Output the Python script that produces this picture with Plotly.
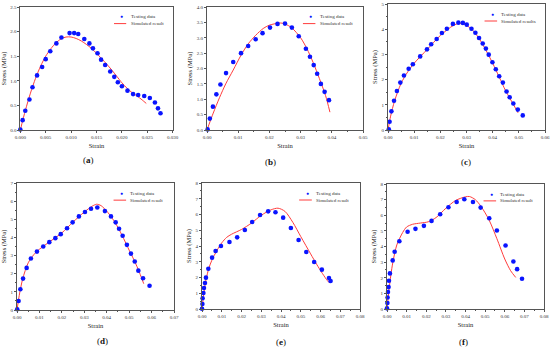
import plotly.graph_objects as go

# ---------------- data ----------------
a_test_x = [0.0, 0.00046, 0.00098, 0.0018, 0.0024, 0.0033, 0.0043, 0.0050, 0.0059, 0.0071, 0.0081, 0.0097,
            0.0106, 0.0114, 0.0126, 0.0136, 0.0143, 0.0152, 0.0159, 0.0167, 0.0177, 0.0185, 0.0192, 0.0200,
            0.0211, 0.0222, 0.0232, 0.0244, 0.0255, 0.0265, 0.0271, 0.0276]
a_test_y = [0.01, 0.20, 0.39, 0.62, 0.87, 1.11, 1.28, 1.44, 1.60, 1.76, 1.88, 1.97,
            1.97, 1.95, 1.85, 1.76, 1.66, 1.56, 1.43, 1.32, 1.19, 1.08, 0.97, 0.89,
            0.80, 0.73, 0.71, 0.69, 0.65, 0.56, 0.44, 0.34]
a_sim_x = [0.0, 0.001, 0.002, 0.003, 0.004, 0.005, 0.006, 0.007, 0.008, 0.009, 0.010, 0.011, 0.012,
           0.013, 0.014, 0.015, 0.016, 0.017, 0.018, 0.019, 0.020, 0.021, 0.022, 0.023, 0.024, 0.0248]
a_sim_y = [0.0, 0.40, 0.75, 1.05, 1.30, 1.50, 1.65, 1.77, 1.85, 1.89, 1.89, 1.86, 1.81,
           1.74, 1.66, 1.56, 1.45, 1.34, 1.22, 1.09, 0.96, 0.85, 0.76, 0.69, 0.61, 0.54]

b_test_x = [0.0002, 0.0009, 0.0019, 0.0030, 0.0043, 0.0061, 0.0084, 0.0109, 0.0132, 0.0156, 0.0178, 0.0202,
            0.0226, 0.0250, 0.0272, 0.0294, 0.0317, 0.0330, 0.0342, 0.0353, 0.0365, 0.0377, 0.0391]
b_test_y = [0.02, 0.37, 0.76, 1.16, 1.48, 1.85, 2.21, 2.50, 2.73, 2.95, 3.15, 3.33,
            3.45, 3.46, 3.33, 3.05, 2.64, 2.38, 2.11, 1.83, 1.50, 1.24, 0.97]
b_sim_x = [0.0, 0.002, 0.004, 0.006, 0.0084, 0.011, 0.0132, 0.0156, 0.018, 0.020, 0.0235, 0.025,
           0.0272, 0.030, 0.032, 0.034, 0.036, 0.038, 0.0394]
b_sim_y = [0.0, 0.55, 1.05, 1.50, 1.95, 2.45, 2.80, 3.08, 3.30, 3.41, 3.48, 3.45,
           3.32, 3.00, 2.65, 2.20, 1.68, 1.12, 0.58]

c_test_x = [0.0003, 0.0006, 0.0013, 0.0023, 0.0034, 0.0047, 0.0061, 0.0079, 0.0095, 0.0123, 0.0149, 0.0165,
            0.0186, 0.0206, 0.0225, 0.0248, 0.0269, 0.0286, 0.0301, 0.0319, 0.0334, 0.0348, 0.0362, 0.0374,
            0.0385, 0.0399, 0.0412, 0.0425, 0.0439, 0.0453, 0.0465, 0.0479, 0.0496, 0.0515]
c_test_y = [0.03, 0.33, 0.74, 1.16, 1.55, 1.88, 2.16, 2.43, 2.61, 2.92, 3.20, 3.40,
            3.61, 3.85, 4.02, 4.21, 4.26, 4.25, 4.18, 4.02, 3.86, 3.65, 3.43, 3.23,
            2.99, 2.69, 2.41, 2.13, 1.88, 1.53, 1.30, 1.05, 0.81, 0.58]
c_sim_x = [0.0, 0.001, 0.0025, 0.005, 0.0075, 0.010, 0.015, 0.020, 0.025, 0.0275, 0.030, 0.0325,
           0.035, 0.0375, 0.040, 0.0425, 0.045, 0.048, 0.0497]
c_sim_y = [0.0, 0.55, 1.15, 1.85, 2.30, 2.65, 3.20, 3.75, 4.15, 4.24, 4.15, 3.95,
           3.60, 3.15, 2.65, 2.10, 1.55, 1.00, 0.68]

d_test_x = [0.0001, 0.0007, 0.0015, 0.0027, 0.0043, 0.0062, 0.0089, 0.0117, 0.0144, 0.0171, 0.0195, 0.0223,
            0.0248, 0.0276, 0.0303, 0.0330, 0.0358, 0.0392, 0.0419, 0.0440, 0.0455, 0.0471, 0.0490, 0.0508,
            0.0525, 0.0541, 0.0562, 0.0591]
d_test_y = [0.04, 0.50, 1.14, 1.73, 2.32, 2.84, 3.22, 3.50, 3.74, 3.96, 4.18, 4.51,
            4.83, 5.16, 5.40, 5.58, 5.65, 5.45, 5.16, 4.83, 4.48, 4.09, 3.59, 3.11,
            2.67, 2.17, 1.75, 1.34]
d_sim_x = [0.0, 0.001, 0.0025, 0.005, 0.0075, 0.010, 0.015, 0.020, 0.025, 0.030, 0.0335, 0.0355,
           0.0375, 0.040, 0.0425, 0.045, 0.0475, 0.050, 0.052, 0.054, 0.0565]
d_sim_y = [0.0, 0.80, 1.70, 2.60, 3.05, 3.35, 3.80, 4.25, 4.85, 5.40, 5.72, 5.83,
           5.75, 5.45, 5.05, 4.55, 3.95, 3.30, 2.80, 2.25, 1.45]

e_test_x = [0.0, 0.0002, 0.0003, 0.0007, 0.0010, 0.0015, 0.0020, 0.0032, 0.0051, 0.0069, 0.0096, 0.0139,
            0.0178, 0.0217, 0.0254, 0.0294, 0.0335, 0.0372, 0.0411, 0.0450, 0.0489, 0.0528, 0.0568, 0.0607,
            0.0643, 0.0651]
e_test_y = [0.02, 0.32, 0.68, 1.02, 1.33, 1.65, 1.99, 2.56, 3.26, 3.68, 4.00, 4.25,
            4.55, 5.02, 5.52, 5.97, 6.20, 6.14, 5.80, 5.14, 4.38, 3.62, 2.98, 2.50,
            1.97, 1.78]
e_sim_x = [0.0, 0.0005, 0.001, 0.002, 0.0035, 0.005, 0.0075, 0.010, 0.0125, 0.015, 0.020, 0.025,
           0.030, 0.035, 0.0385, 0.042, 0.046, 0.050, 0.055, 0.058, 0.061, 0.0635, 0.0645, 0.0655]
e_sim_y = [0.0, 0.55, 1.05, 1.85, 2.60, 3.10, 3.70, 4.20, 4.55, 4.75, 5.05, 5.45,
           5.95, 6.30, 6.40, 6.20, 5.50, 4.60, 3.50, 2.85, 2.25, 1.80, 1.68, 1.80]

f_test_x = [0.0, 0.0002, 0.0003, 0.0005, 0.0008, 0.0010, 0.0015, 0.0029, 0.0039, 0.0063, 0.0105, 0.0145,
            0.0188, 0.0227, 0.0271, 0.0313, 0.0355, 0.0394, 0.0438, 0.0477, 0.0521, 0.0560, 0.0604, 0.0644,
            0.0663, 0.0688]
f_test_y = [0.04, 0.38, 0.74, 1.09, 1.40, 1.81, 2.28, 3.11, 3.66, 4.34, 4.94, 5.13,
            5.32, 5.64, 6.06, 6.51, 6.85, 7.02, 6.85, 6.49, 5.81, 5.02, 4.06, 3.04,
            2.55, 1.94]
f_sim_x = [0.0, 0.0005, 0.001, 0.002, 0.003, 0.005, 0.008, 0.010, 0.013, 0.017, 0.021, 0.025,
           0.030, 0.035, 0.040, 0.042, 0.045, 0.048, 0.052, 0.056, 0.060, 0.063, 0.0656]
f_sim_y = [0.0, 0.60, 1.20, 2.20, 3.00, 4.10, 4.90, 5.25, 5.42, 5.50, 5.58, 5.85,
           6.45, 6.95, 7.18, 7.20, 7.00, 6.55, 5.70, 4.50, 3.20, 2.45, 2.02]

panel_labels = ["a", "b", "c", "d", "e", "f"]
sim_names = ["Simulated result", "Simulated result", "Simulated results",
             "Simulated result", "Simulated result", "Simulated result"]
test_name = "Testing data"

x_ranges = [[0, 0.03], [0, 0.05], [0, 0.06], [0, 0.07], [0, 0.08], [0, 0.08]]
x_dticks = [0.005, 0.01, 0.01, 0.01, 0.01, 0.01]
x_formats = [".3f", ".2f", ".2f", ".2f", ".2f", ".2f"]
y_ranges = [[0, 2.5], [0, 4.0], [0, 5], [0, 7], [0, 8], [0, 8]]
y_dticks = [0.5, 0.5, 1, 1, 1, 1]
y_formats = [".1f", ".1f", "d", "d", "d", "d"]

tests = [(a_test_x, a_test_y), (b_test_x, b_test_y), (c_test_x, c_test_y),
         (d_test_x, d_test_y), (e_test_x, e_test_y), (f_test_x, f_test_y)]
sims = [(a_sim_x, a_sim_y), (b_sim_x, b_sim_y), (c_sim_x, c_sim_y),
        (d_sim_x, d_sim_y), (e_sim_x, e_sim_y), (f_sim_x, f_sim_y)]

# ---------------- layout geometry (pixels) ----------------
W, H = 550, 348
boxes = [  # left, right, top, bottom in px
    (20.3, 172.7, 7, 130),
    (207, 363, 7, 130),
    (388, 545, 4, 130),
    (17, 174, 183, 310),
    (202, 360, 183, 309),
    (387, 544, 184, 309),
]
label_pos = [(88, 160), (270, 162), (466, 162), (102, 341), (281, 342), (463, 342)]

FONT = "Liberation Serif"
BLUE = "#0a14ff"
RED = "#ff3c3c"
AXC = "#555555"

fig = go.Figure()
layout = dict(
    width=W, height=H, margin=dict(l=0, r=0, t=0, b=0, autoexpand=False),
    paper_bgcolor="white", plot_bgcolor="white",
    showlegend=False, font=dict(family=FONT, size=6, color="#222"),
)
annotations = []
shapes = []

for i in range(6):
    n = "" if i == 0 else str(i + 1)
    xa, ya = "x" + n, "y" + n
    l, r, t, b = boxes[i]
    tx, ty = tests[i]
    sx, sy = sims[i]
    fig.add_trace(go.Scatter(x=sx, y=sy, mode="lines", line=dict(color=RED, width=1, shape="spline", smoothing=0.8),
                             xaxis=xa, yaxis=ya, name=sim_names[i], cliponaxis=False))
    fig.add_trace(go.Scatter(x=tx, y=ty, mode="markers",
                             marker=dict(color=BLUE, size=4.6, line=dict(width=0)),
                             xaxis=xa, yaxis=ya, name=test_name, cliponaxis=False))
    axis_common = dict(showline=True, linecolor=AXC, linewidth=0.8, mirror=True,
                       ticks="outside", ticklen=2, tickwidth=0.6, tickcolor=AXC,
                       showgrid=False, zeroline=False, automargin=False,
                       tickfont=dict(family=FONT, size=5, color="#333"),
                       minor=dict(ticks="outside", ticklen=1.2, tickwidth=0.5, tickcolor=AXC, nticks=2))
    layout["xaxis" + n] = dict(axis_common, domain=[l / W, r / W], anchor=ya, range=x_ranges[i],
                               dtick=x_dticks[i], tick0=0, tickformat=x_formats[i],
                               title=dict(text="Strain", font=dict(family=FONT, size=6.5, color="#222"), standoff=4))
    layout["yaxis" + n] = dict(axis_common, domain=[(H - b) / H, (H - t) / H], anchor=xa, range=y_ranges[i],
                               dtick=y_dticks[i], tick0=0, tickformat=y_formats[i],
                               title=dict(text="Stress (MPa)", font=dict(family=FONT, size=6.5, color="#222"), standoff=3))
    # legend (drawn manually in axis-domain coordinates)
    xd = xa + " domain"
    yd = ya + " domain"
    annotations.append(dict(x=0.665, y=0.92, xref=xd, yref=yd, text="●", showarrow=False,
                            font=dict(size=5, color=BLUE), xanchor="center", yanchor="middle"))
    shapes.append(dict(type="line", xref=xd, yref=yd, x0=0.615, x1=0.695, y0=0.865, y1=0.865,
                       line=dict(color=RED, width=1)))
    annotations.append(dict(x=0.71, y=0.92, xref=xd, yref=yd, text=test_name, showarrow=False,
                            font=dict(family=FONT, size=5, color="#333"), xanchor="left", yanchor="middle"))
    annotations.append(dict(x=0.71, y=0.865, xref=xd, yref=yd, text=sim_names[i], showarrow=False,
                            font=dict(family=FONT, size=5, color="#333"), xanchor="left", yanchor="middle"))
    # panel label
    px, py = label_pos[i]
    annotations.append(dict(x=px / W, y=(H - py) / H, xref="paper", yref="paper",
                            text="(<b>" + panel_labels[i] + "</b>)", showarrow=False,
                            font=dict(family=FONT, size=9, color="#111"), xanchor="center", yanchor="middle"))

layout["annotations"] = annotations
layout["shapes"] = shapes
fig.update_layout(**layout)
fig.write_html("out.html", config={"displayModeBar": False},
               post_script="document.body.style.margin='0';document.body.style.padding='0';"
                           "document.documentElement.style.overflow='hidden';")
